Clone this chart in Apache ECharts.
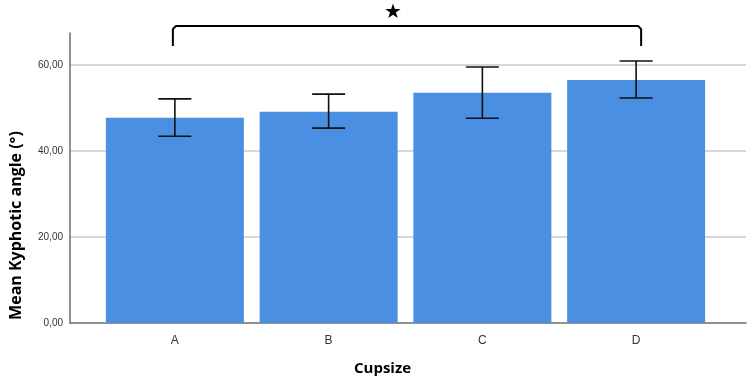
<!DOCTYPE html>
<html>
<head>
<meta charset="utf-8">
<script src="https://cdn.jsdelivr.net/npm/echarts@6/dist/echarts.min.js"></script>
<style>
  html, body { margin: 0; padding: 0; background: #fff; }
  #chart { width: 749px; height: 383px; }
</style>
</head>
<body>
<div id="chart"></div>
<script>
// data
const categories = ["A", "B", "C", "D"];
const means = [47.7, 49.1, 53.5, 56.5];
const errLow = [43.4, 45.3, 47.6, 52.3];
const errHigh = [52.1, 53.2, 59.5, 60.9];
// significance bracket between A and D: [from, to, top, bottom of legs]
const bracket = [0, 3, 69.0, 64.4];
const starY = 72.0;

const yMax = 67.4;

const chart = echarts.init(document.getElementById("chart"));

const fmt = v => v.toFixed(2).replace(".", ",");

const options = {
  animation: false,
  grid: [
    // frame: axis lines and gridlines span the full width
    { left: 64, right: 3, top: 33, bottom: 60 },
    // bars sit in a narrower band inside
    { left: 98, right: 36, top: 33, bottom: 60 }
  ],
  xAxis: [
    {
      gridIndex: 0, type: "value", min: 0, max: 1,
      axisLine: { show: true, lineStyle: { color: "#6e6e6e", width: 1.5 } },
      axisTick: { show: false }, axisLabel: { show: false }, splitLine: { show: false }
    },
    {
      gridIndex: 1, type: "category", data: categories,
      axisLine: { show: false }, axisTick: { show: false },
      axisLabel: { color: "#333", fontSize: 12, fontFamily: "Liberation Sans", margin: 12 }
    }
  ],
  yAxis: [
    {
      gridIndex: 0, type: "value", min: 0, max: yMax, interval: 20,
      name: "Mean Kyphotic angle (°)", nameLocation: "middle", nameGap: 46,
      nameTextStyle: { fontFamily: "Open Sans", fontWeight: "bold", fontSize: 16, color: "#000", padding: [0, 95, 0, 0] },
      axisLine: { show: true, lineStyle: { color: "#6e6e6e", width: 1.5 } },
      axisTick: { show: false },
      axisLabel: {
        color: "#333", fontSize: 10, fontFamily: "Liberation Sans", margin: 7,
        showMaxLabel: false,
        formatter: v => (v % 20 === 0 ? fmt(v) : "")
      },
      splitLine: { show: true, showMinLine: false, showMaxLine: false, lineStyle: { color: "#cacaca", width: 1.5 } }
    },
    { gridIndex: 1, type: "value", min: 0, max: yMax, show: false }
  ],
  graphic: [
    {
      type: "text", left: 354, top: 361,
      style: { text: "Cupsize", font: "bold 15px 'Open Sans'", fill: "#000" }
    }
  ],
  series: [
    {
      type: "bar", xAxisIndex: 1, yAxisIndex: 1,
      data: means, barWidth: 138,
      itemStyle: { color: "#4a8fe2" }
    },
    {
      type: "custom", xAxisIndex: 1, yAxisIndex: 1,
      data: categories.map((c, i) => [i, errLow[i], errHigh[i]]),
      z: 10,
      renderItem: (params, api) => {
        const lo = api.coord([api.value(0), api.value(1)]);
        const hi = api.coord([api.value(0), api.value(2)]);
        const half = 16.5;
        const style = { stroke: "#111", lineWidth: 1.6 };
        return {
          type: "group",
          children: [
            { type: "line", shape: { x1: lo[0], y1: lo[1], x2: hi[0], y2: hi[1] }, style },
            { type: "line", shape: { x1: hi[0] - half, y1: hi[1], x2: hi[0] + half, y2: hi[1] }, style },
            { type: "line", shape: { x1: lo[0] - half, y1: lo[1], x2: lo[0] + half, y2: lo[1] }, style }
          ]
        };
      }
    },
    {
      type: "custom", xAxisIndex: 1, yAxisIndex: 1, clip: false,
      data: [bracket],
      z: 10,
      renderItem: (params, api) => {
        const a = api.coord([api.value(0), api.value(2)]);
        const b = api.coord([api.value(1), api.value(2)]);
        const aEnd = api.coord([api.value(0), api.value(3)]);
        const x1 = a[0] - 2, x2 = b[0] + 5, yt = a[1], yb = aEnd[1];
        const starPos = api.coord([0, starY]);
        return {
          type: "group",
          children: [
            {
              type: "polyline",
              shape: { points: [[x1, yb], [x1, yt + 3], [x1 + 3, yt], [x2 - 3, yt], [x2, yt + 3], [x2, yb]] },
              style: { stroke: "#000", lineWidth: 2, fill: null }
            },
            {
              type: "text",
              style: {
                text: "★", x: (x1 + x2) / 2 - 14, y: starPos[1],
                font: "20px 'DejaVu Sans'", fill: "#000",
                align: "center", verticalAlign: "middle"
              }
            }
          ]
        };
      }
    }
  ]
};

chart.setOption(options);
</script>
</body>
</html>
